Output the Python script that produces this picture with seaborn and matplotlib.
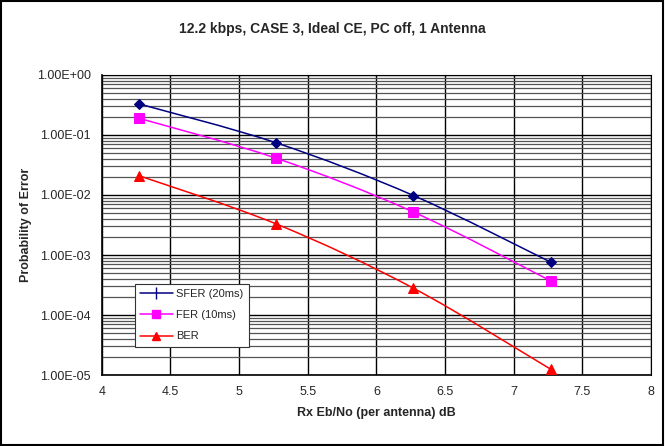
import numpy as np
import pandas as pd
import matplotlib
matplotlib.use("Agg")
import matplotlib.pyplot as plt
import seaborn as sns
from matplotlib.ticker import FixedLocator, FuncFormatter, LogLocator, NullFormatter
from matplotlib.lines import Line2D
from matplotlib.patches import Rectangle, PathPatch
from matplotlib.path import Path

# Measured error rates vs received Eb/No
eb_no = [4.27, 5.27, 6.27, 7.27]
sfer_20ms = [0.33, 0.074, 0.0098, 0.00076]
fer_10ms = [0.19, 0.041, 0.0052, 0.00037]
ber = [0.021, 0.0033, 0.00028, 0.0000125]
series_names = ["SFER (20ms)", "FER (10ms)", "BER"]
series_values = [sfer_20ms, fer_10ms, ber]

df = pd.DataFrame({
    "ebno": eb_no * 3,
    "p": sfer_20ms + fer_10ms + ber,
    "series": [n for n in series_names for _ in eb_no],
})

sns.set_style("white")
plt.rcParams["font.family"] = ["Liberation Sans", "DejaVu Sans"]

fig = plt.figure(figsize=(6.65, 4.46), dpi=100)
ax = fig.add_axes([0.153, 0.159, 0.826, 0.673])
ax.set_yscale("log")

colors = {"SFER (20ms)": "#000080", "FER (10ms)": "#FF00FF", "BER": "#FF0000"}
markers = {"SFER (20ms)": "D", "FER (10ms)": "s", "BER": "^"}
msizes = {"SFER (20ms)": 5, "FER (10ms)": 7, "BER": 7}


def smooth_path(xs, ys):
    """Catmull-Rom style cubic Bezier through the points, built in (x, log y) space."""
    pts = np.column_stack([xs, np.log10(ys)])
    n = len(pts)
    verts = [pts[0]]
    codes = [Path.MOVETO]
    for i in range(n - 1):
        p0 = pts[max(i - 1, 0)]
        p1 = pts[i]
        p2 = pts[i + 1]
        p3 = pts[min(i + 2, n - 1)]
        c1 = p1 + (p2 - p0) / 6.0
        c2 = p2 - (p3 - p1) / 6.0
        verts += [c1, c2, p2]
        codes += [Path.CURVE4] * 3
    verts = np.array(verts)
    verts[:, 1] = 10 ** verts[:, 1]
    return Path(verts, codes)


for name, vals in zip(series_names, series_values):
    ax.add_patch(PathPatch(smooth_path(eb_no, vals), facecolor="none",
                           edgecolor=colors[name], linewidth=1.1, zorder=4))
    sub = df[df["series"] == name]
    sns.lineplot(data=sub, x="ebno", y="p", ax=ax, color=colors[name],
                 marker=markers[name], markersize=msizes[name],
                 markeredgecolor=colors[name], linestyle="none", legend=False,
                 zorder=5)

ax.set_xlim(4, 8)
ax.set_ylim(1e-5, 1)
ax.xaxis.set_major_locator(FixedLocator(np.arange(4, 8.01, 0.5)))
ax.xaxis.set_major_formatter(FuncFormatter(lambda v, p: f"{v:g}"))
ax.yaxis.set_major_locator(LogLocator(base=10, numticks=10))
ax.yaxis.set_minor_locator(LogLocator(base=10, subs=np.arange(2, 10), numticks=50))
ax.yaxis.set_minor_formatter(NullFormatter())
ax.yaxis.set_major_formatter(FuncFormatter(lambda v, p: f"{v:.2E}"))

ax.grid(True, which="major", axis="both", color="#000000", linewidth=1.0)
ax.grid(True, which="minor", axis="y", color="#555555", linewidth=0.9)
ax.set_axisbelow(True)

ax.tick_params(axis="both", which="major", direction="out", length=4, width=1,
               color="black", labelsize=9, pad=4)
ax.tick_params(axis="y", which="minor", length=0)
for side in ["top", "right"]:
    ax.spines[side].set_visible(True)
    ax.spines[side].set_color("black")
for side in ["left", "bottom"]:
    ax.spines[side].set_color("black")
    ax.spines[side].set_linewidth(1.2)

ax.set_xlabel("Rx Eb/No (per antenna) dB", fontsize=9, fontweight="bold", labelpad=6)
ax.set_ylabel("Probability of Error", fontsize=9, fontweight="bold", labelpad=3)
fig.suptitle("12.2 kbps, CASE 3, Ideal CE, PC off, 1 Antenna", fontsize=10,
             fontweight="bold", y=0.95)

handles = [
    Line2D([], [], color=colors["SFER (20ms)"], marker="|", markersize=8, linewidth=1.1),
    Line2D([], [], color=colors["FER (10ms)"], marker="s", markersize=6, linewidth=1.1),
    Line2D([], [], color=colors["BER"], marker="^", markersize=6, linewidth=1.1),
]
leg = ax.legend(handles, series_names, loc="lower left",
                bbox_to_anchor=(0.05, 0.075), fontsize=8, frameon=True,
                fancybox=False, edgecolor="#333333", framealpha=1,
                borderpad=0.5, labelspacing=1.0, handlelength=2.9,
                handletextpad=0.3)
leg.get_frame().set_linewidth(0.8)
leg.set_zorder(10)

fig.patches.append(Rectangle((0.002, 0.003), 0.995, 0.994, transform=fig.transFigure,
                             fill=False, edgecolor="black", linewidth=1.5))

fig.savefig("out.png", dpi=100)
